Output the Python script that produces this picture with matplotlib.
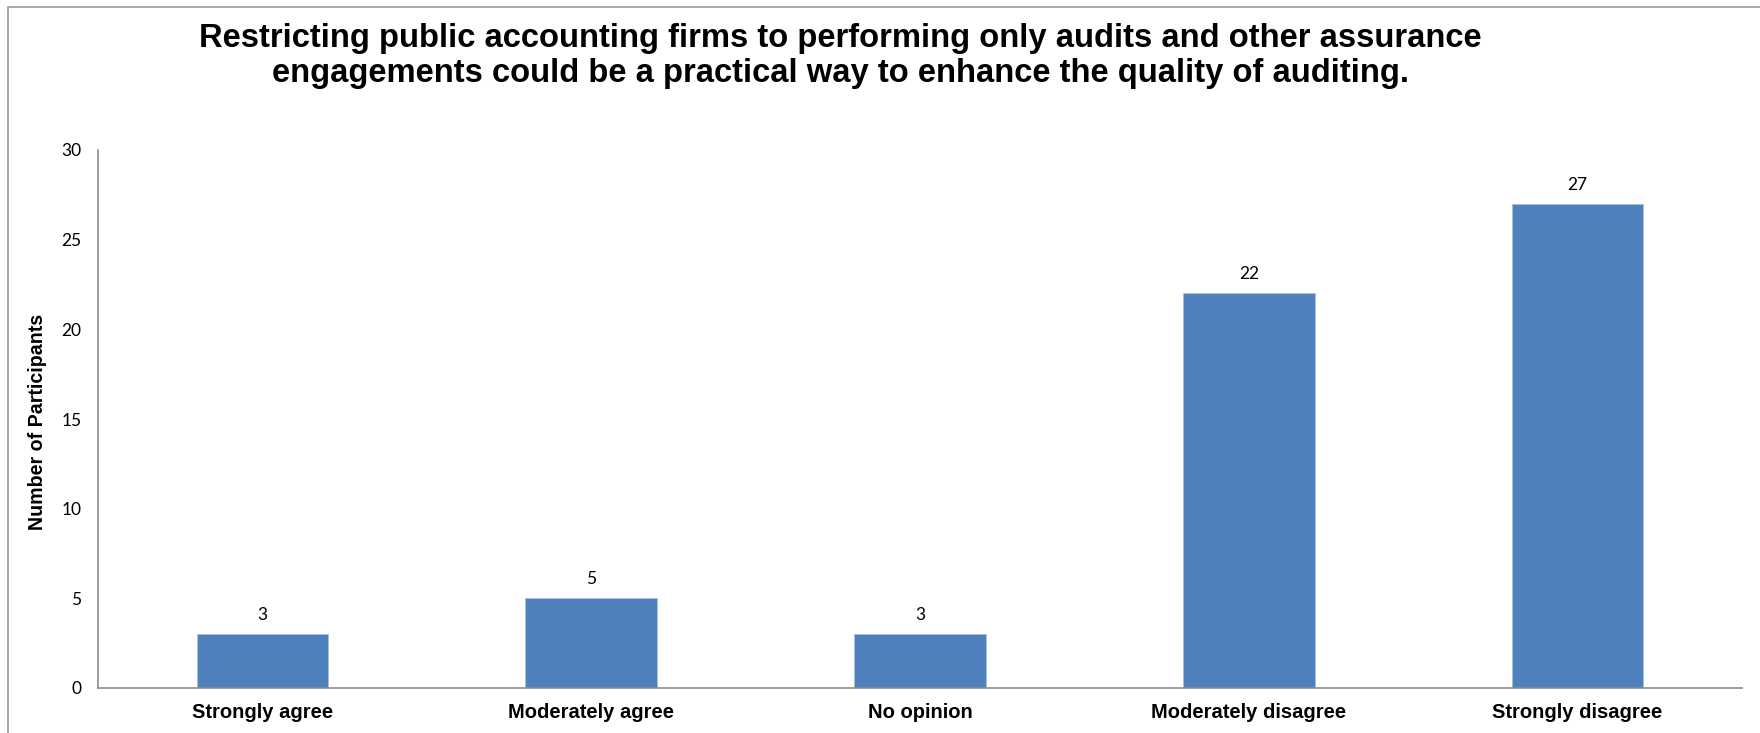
import matplotlib
matplotlib.use("Agg")
import matplotlib.pyplot as plt
from matplotlib.patches import Rectangle

categories = ["Strongly agree", "Moderately agree", "No opinion",
              "Moderately disagree", "Strongly disagree"]
values = [3, 5, 3, 22, 27]
yticks = [0, 5, 10, 15, 20, 25, 30]
title_lines = ["Restricting public accounting firms to performing only audits and other assurance",
               "engagements could be a practical way to enhance the quality of auditing."]
ylabel = "Number of Participants"

W, H = 1760, 733
fig = plt.figure(figsize=(W / 100, H / 100), dpi=100)
fig.patch.set_facecolor("white")

# outer chart frame
fig.patches.append(Rectangle((8 / W, -0.05), 1.2, 1 - 7 / H + 0.05,
                             transform=fig.transFigure, fill=False,
                             edgecolor="#9a9a9a", linewidth=1.2))

ax = fig.add_axes([98 / W, 1 - 688 / H, (1742 - 98) / W, (688 - 150) / H])
x = list(range(len(categories)))
ax.bar(x, values, width=0.4, color="#4F81BD", edgecolor="#A7C0DE", linewidth=0.6)
ax.set_xlim(-0.5, len(categories) - 0.5)
ax.set_ylim(0, 30)
ax.set_yticks(yticks)
ax.set_yticklabels([str(t) for t in yticks], fontfamily="Lato", fontsize=12.5)
ax.set_xticks(x)
ax.set_xticklabels(categories, fontfamily="Liberation Sans", fontweight="bold", fontsize=14.5)
ax.tick_params(axis="y", length=0, pad=12)
ax.tick_params(axis="x", length=0, pad=11)

for s in ["top", "right"]:
    ax.spines[s].set_visible(False)
for s in ["left", "bottom"]:
    ax.spines[s].set_color("#8c8c8c")
    ax.spines[s].set_linewidth(1.2)

for xi, v in zip(x, values):
    ax.annotate(str(v), (xi, v), xytext=(0, 8), textcoords="offset points",
                ha="center", va="bottom", fontfamily="Lato", fontsize=12.5)

fig.text(37.5 / W, 1 - 421.5 / H, ylabel, rotation=90, ha="center", va="center",
         fontfamily="Liberation Sans", fontweight="bold", fontsize=14.1)

# title: size the first line to its measured width in the reference (~1286 px)
renderer = fig.canvas.get_renderer()
t1 = fig.text(840 / W, 1 - 47 / H, title_lines[0], ha="center", va="baseline",
              fontfamily="Liberation Sans", fontweight="bold", fontsize=23.3)
w = t1.get_window_extent(renderer).width
size = 23.3 * 1286 / w
t1.set_fontsize(size)
fig.text(840 / W, 1 - 82 / H, title_lines[1], ha="center", va="baseline",
         fontfamily="Liberation Sans", fontweight="bold", fontsize=size)

fig.savefig("out.png", dpi=100, facecolor="white")
